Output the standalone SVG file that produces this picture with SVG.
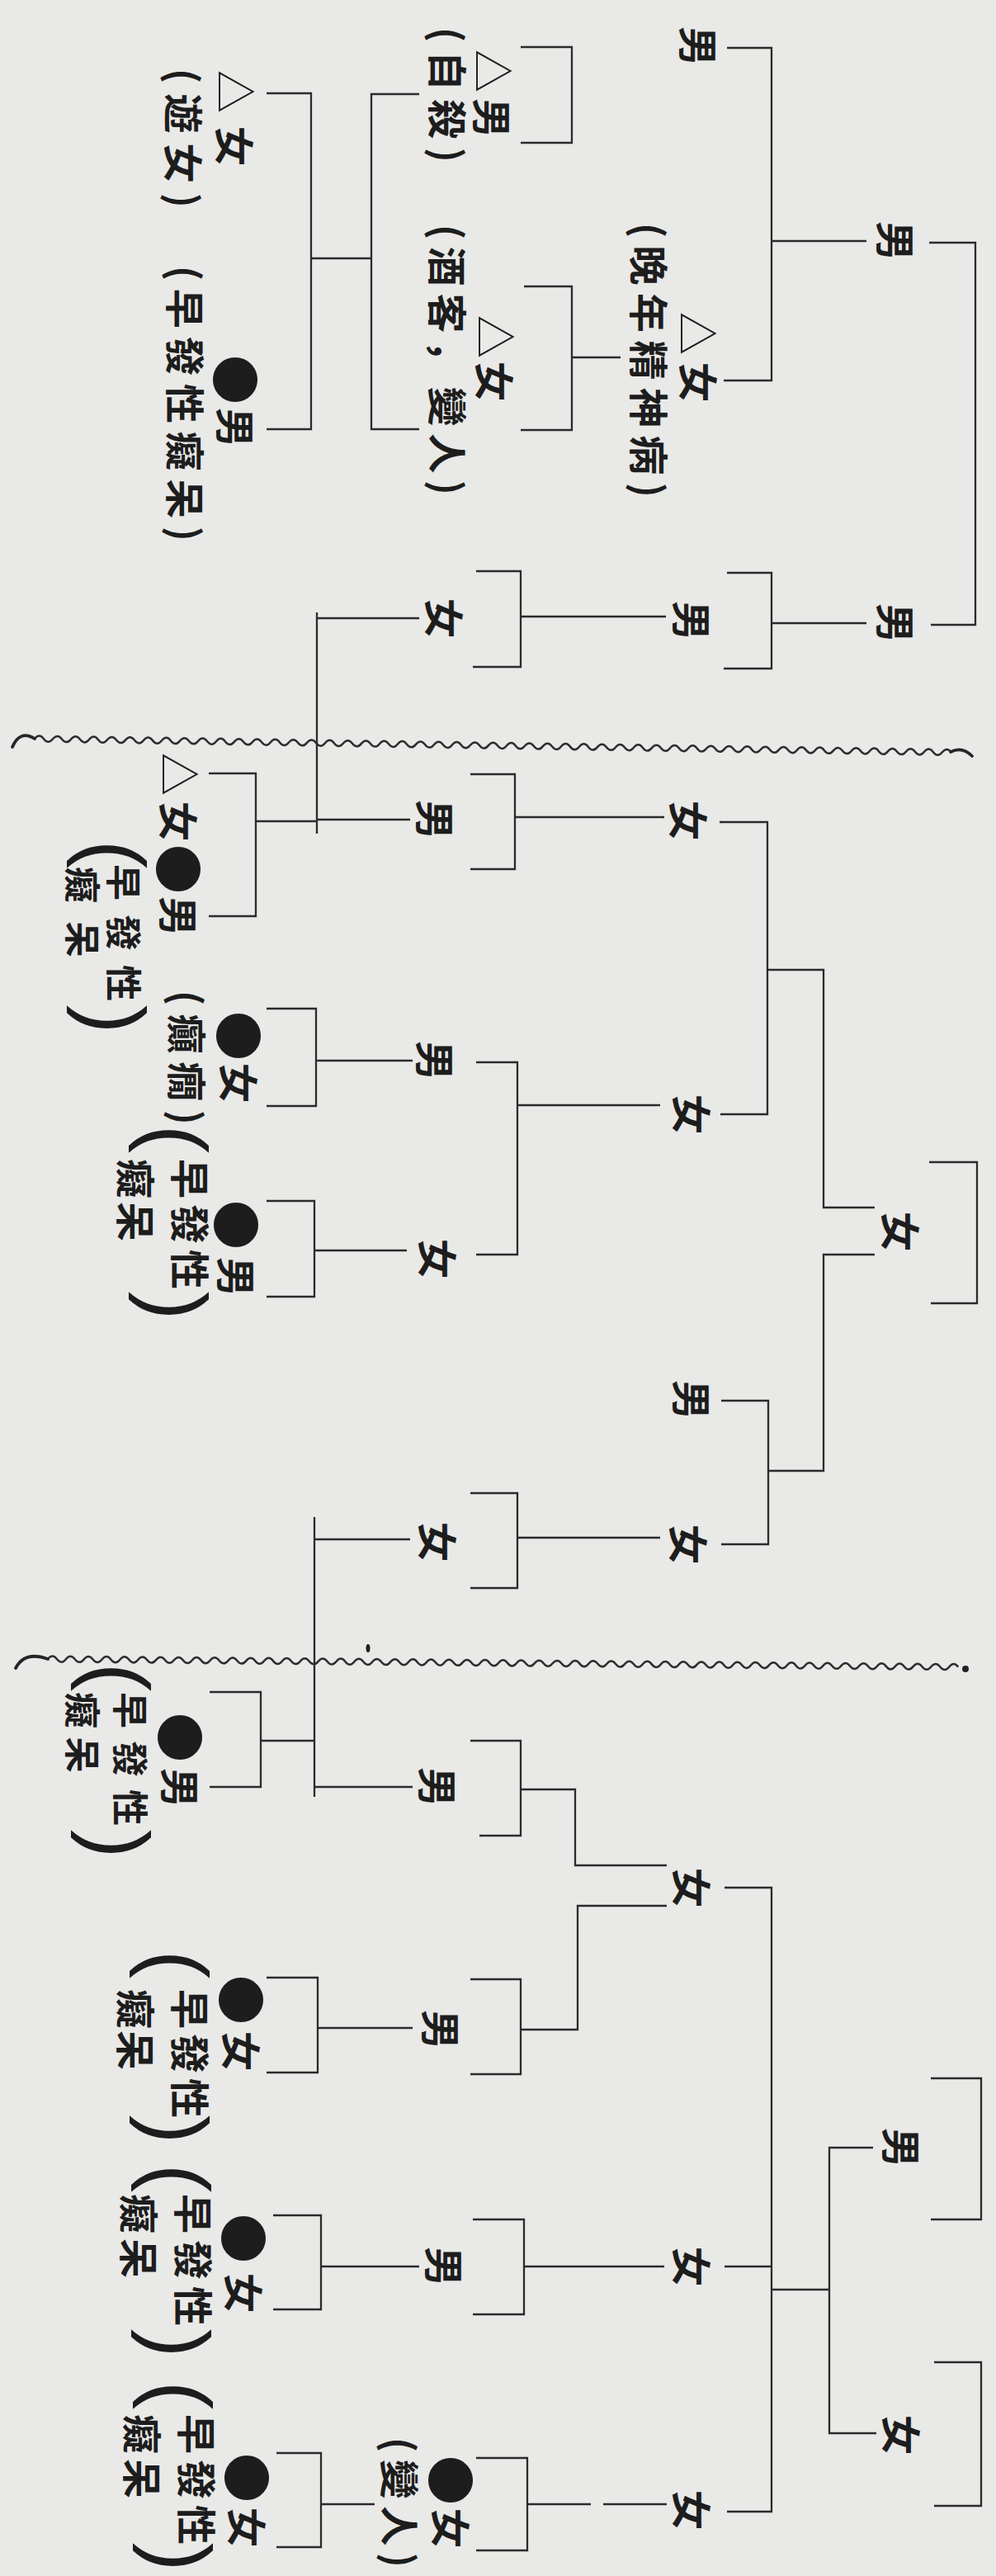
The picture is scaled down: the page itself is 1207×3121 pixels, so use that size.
<svg xmlns="http://www.w3.org/2000/svg" width="1207" height="3121" viewBox="0 0 1207 3121">
<defs>
<style>
.bg{fill:#e9e9e7}
.c path{fill:none;stroke:#2b2b2b;stroke-width:2.3;stroke-linecap:butt;stroke-linejoin:miter}
.w{fill:none;stroke:#2e2e2e;stroke-width:2.5}
.wh{fill:none;stroke:#262626;stroke-width:3.8;stroke-linecap:round}
text{font-family:"Noto Sans CJK JP","Noto Sans CJK SC",sans-serif;fill:#1d1d1d;dominant-baseline:central}
.n{font-size:48px;text-anchor:middle;font-weight:700}
.s{font-size:52px;text-anchor:middle}
.d{font-size:60px;text-anchor:middle}
.a{font-size:48px;text-anchor:start;font-weight:700}
.a2{font-size:48px;text-anchor:start;font-weight:700}
.a3{font-size:44px;text-anchor:start;font-weight:700}
.p{font-family:"Liberation Sans",sans-serif;font-size:104px;text-anchor:middle;font-weight:400}
</style>
<path id="wave" class="w" d="M0,0 q5.5,-7 11,0 t11,0t11,0t11,0t11,0t11,0t11,0t11,0t11,0t11,0t11,0 t11,0t11,0t11,0t11,0t11,0t11,0t11,0t11,0t11,0t11,0 t11,0t11,0t11,0t11,0t11,0t11,0t11,0t11,0t11,0t11,0 t11,0t11,0t11,0t11,0t11,0t11,0t11,0t11,0t11,0t11,0 t11,0t11,0t11,0t11,0t11,0t11,0t11,0t11,0t11,0t11,0 t11,0t11,0t11,0t11,0t11,0t11,0t11,0t11,0t11,0t11,0 t11,0t11,0t11,0t11,0t11,0t11,0t11,0t11,0t11,0t11,0 t11,0t11,0t11,0t11,0t11,0t11,0t11,0t11,0t11,0t11,0 t11,0t11,0t11,0t11,0t11,0t11,0t11,0t11,0t11,0t11,0 t11,0t11,0t11,0t11,0t11,0t11,0t11,0t11,0t11,0t11,0"/>
</defs>
<rect class="bg" x="0" y="0" width="1207" height="3121"/>

<g id="breaks">
<use href="#wave" transform="translate(42,895) rotate(0.85)"/>
<path class="wh" d="M15,905 Q24,884 42,895"/>
<path class="wh" d="M1152,911 Q1166,904 1178,916"/>
<use href="#wave" transform="translate(58,2010) rotate(0.5) scale(0.993,1)"/>
<path class="wh" d="M19,2021 Q30,2000 58,2010"/>
<circle cx="1170" cy="2022" r="4" fill="#222"/>
<ellipse cx="446" cy="1997" rx="2.5" ry="5" fill="#222"/>
</g>

<g id="connectors" class="c">
<path d="M1126,294 H1182 V757 H1128"/>
<path d="M881,58 H935 V461 H877 M935,292 H1050"/>
<path d="M631,57 H693 V173 H631"/>
<path d="M635,347 H693 V521 H631 M693,433 H752"/>
<path d="M508,114 H450 V520 H508 M450,313 H377"/>
<path d="M323,113 H377 V520 H323"/>
<path d="M881,694 H935 V810 H877 M935,755 H1050"/>
<path d="M577,692 H631 V808 H573 M631,747 H807"/>
<path d="M384,742 V1010 M384,749 H508 M384,993 H497"/>
<path d="M253,937 H310 V1110 H253 M310,995 H384"/>
<path d="M570,938 H624 V1053 H570 M624,990 H805"/>
<path d="M872,996 H930 V1350 H873 M930,1175 H998 V1463 H1060 M1060,1520 H998 V1782 H931"/>
<path d="M874,1697 H931 V1871 H874"/>
<path d="M1126,1408 H1184 V1579 H1128"/>
<path d="M577,1287 H627 V1520 H577 M627,1339 H800"/>
<path d="M323,1222 H383 V1340 H323 M383,1285 H500"/>
<path d="M323,1455 H381 V1571 H323 M381,1515 H493"/>
<path d="M570,1809 H627 V1924 H570 M627,1863 H800"/>
<path d="M381,1838 V2177 M381,1865 H497 M381,2165 H500 M316,2109 H381"/>
<path d="M254,2050 H316 V2165 H254"/>
<path d="M570,2109 H631 V2224 H581 M631,2168 H697 V2260 H808"/>
<path d="M808,2309 H700 V2459 H631 M570,2398 H631 V2513 H570"/>
<path d="M323,2396 H385 V2511 H323 M385,2457 H500"/>
<path d="M878,2287 H935 V3043 H881 M878,2746 H935 M935,2774 H1005"/>
<path d="M1058,2602 H1005 V2948 H1062"/>
<path d="M1128,2518 H1189 V2689 H1128"/>
<path d="M1132,2862 H1189 V3036 H1132"/>
<path d="M573,2689 H635 V2804 H573 M635,2746 H805"/>
<path d="M331,2684 H389 V2798 H331 M389,2746 H508"/>
<path d="M577,2978 H639 V3090 H577 M639,3034 H716 M731,3034 H808"/>
<path d="M335,2972 H389 V3086 H335 M389,3034 H454"/>
</g>

<g id="n1"><text class="n" transform="translate(1088,292) rotate(90)">男</text></g>
<g id="n2"><text class="n" transform="translate(1088,755) rotate(90)">男</text></g>
<g id="n3"><text class="n" transform="translate(1094,1492) rotate(90)">女</text></g>
<g id="n4"><text class="n" transform="translate(1095,2602) rotate(90)">男</text></g>
<g id="n5"><text class="n" transform="translate(1095,2950) rotate(90)">女</text></g>

<g id="n6"><text class="n" transform="translate(849,56) rotate(90)">男</text></g>
<g id="n7"><text class="s" transform="translate(847,404) rotate(90)">△</text><text class="n" transform="translate(849,463) rotate(90)">女</text><text class="a" transform="translate(789,270) rotate(90)" textLength="333" lengthAdjust="spacing">(晚年精神病)</text></g>
<g id="n8"><text class="n" transform="translate(841,752) rotate(90)">男</text></g>
<g id="n9"><text class="n" transform="translate(837,994) rotate(90)">女</text></g>
<g id="n10"><text class="n" transform="translate(841,1350) rotate(90)">女</text></g>
<g id="n11"><text class="n" transform="translate(841,1696) rotate(90)">男</text></g>
<g id="n12"><text class="n" transform="translate(837,1871) rotate(90)">女</text></g>
<g id="n13"><text class="n" transform="translate(841,2287) rotate(90)">女</text></g>
<g id="n14"><text class="n" transform="translate(841,2746) rotate(90)">女</text></g>
<g id="n15"><text class="n" transform="translate(841,3041) rotate(90)">女</text></g>

<g id="n16"><text class="s" transform="translate(599,86) rotate(90)">△</text><text class="n" transform="translate(599,143) rotate(90)">男</text><text class="a" transform="translate(545,33) rotate(90)" textLength="164" lengthAdjust="spacing">(自殺)</text></g>
<g id="n17"><text class="s" transform="translate(602,408) rotate(90)">△</text><text class="n" transform="translate(602,462) rotate(90)">女</text><text class="a" transform="translate(545,272) rotate(90)" textLength="328" lengthAdjust="spacing">(酒客，變人)</text></g>
<g id="n18"><text class="n" transform="translate(541,749) rotate(90)">女</text></g>
<g id="n19"><text class="n" transform="translate(530,993) rotate(90)">男</text></g>
<g id="n20"><text class="n" transform="translate(530,1285) rotate(90)">男</text></g>
<g id="n21"><text class="n" transform="translate(533,1525) rotate(90)">女</text></g>
<g id="n22"><text class="n" transform="translate(533,1868) rotate(90)">女</text></g>
<g id="n23"><text class="n" transform="translate(533,2165) rotate(90)">男</text></g>
<g id="n24"><text class="n" transform="translate(537,2459) rotate(90)">男</text></g>
<g id="n25"><text class="n" transform="translate(541,2746) rotate(90)">男</text></g>
<g id="n26"><text class="d" transform="translate(549,3005) rotate(90)">●</text><text class="n" transform="translate(549,3063) rotate(90)">女</text><text class="a" transform="translate(487,2953) rotate(90)" textLength="158" lengthAdjust="spacing">(變人)</text></g>

<g id="n27"><text class="s" transform="translate(287,111) rotate(90)">△</text><text class="n" transform="translate(287,177) rotate(90)">女</text><text class="a" transform="translate(225,83) rotate(90)" textLength="169" lengthAdjust="spacing">(遊女)</text></g>
<g id="n28"><text class="d" transform="translate(288,460) rotate(90)">●</text><text class="n" transform="translate(288,518) rotate(90)">男</text><text class="a" transform="translate(227,322) rotate(90)" textLength="334" lengthAdjust="spacing">(早發性癡呆)</text></g>
<g id="n29"><text class="s" transform="translate(219,938) rotate(90)">△</text><text class="n" transform="translate(219,995) rotate(90)">女</text><text class="d" transform="translate(219,1053) rotate(90)">●</text><text class="n" transform="translate(219,1110) rotate(90)">男</text><text class="p" transform="translate(139,1035) rotate(90)">(</text><text class="a3" transform="translate(152,1047) rotate(90)" textLength="166" lengthAdjust="spacing">早發性</text><text class="a3" transform="translate(102,1050) rotate(90)" textLength="110" lengthAdjust="spacing">癡呆</text><text class="p" transform="translate(139,1235) rotate(90)">)</text></g>
<g id="n30"><text class="d" transform="translate(292,1255) rotate(90)">●</text><text class="n" transform="translate(292,1312) rotate(90)">女</text><text class="a" transform="translate(229,1200) rotate(90)" textLength="163" lengthAdjust="spacing">(癲癇)</text></g>
<g id="n31"><text class="d" transform="translate(289,1484) rotate(90)">●</text><text class="n" transform="translate(289,1547) rotate(90)">男</text><text class="p" transform="translate(214,1380) rotate(90)">(</text><text class="a2" transform="translate(233,1404) rotate(90)" textLength="158" lengthAdjust="spacing">早發性</text><text class="a2" transform="translate(167,1404) rotate(90)" textLength="100" lengthAdjust="spacing">癡呆</text><text class="p" transform="translate(214,1582) rotate(90)">)</text></g>
<g id="n32"><text class="d" transform="translate(221,2105) rotate(90)">●</text><text class="n" transform="translate(221,2166) rotate(90)">男</text><text class="p" transform="translate(144,2032) rotate(90)">(</text><text class="a3" transform="translate(160,2050) rotate(90)" textLength="162" lengthAdjust="spacing">早發性</text><text class="a3" transform="translate(102,2050) rotate(90)" textLength="98" lengthAdjust="spacing">癡呆</text><text class="p" transform="translate(144,2234) rotate(90)">)</text></g>
<g id="n33"><text class="d" transform="translate(295,2423) rotate(90)">●</text><text class="n" transform="translate(295,2485) rotate(90)">女</text><text class="p" transform="translate(215,2380) rotate(90)">(</text><text class="a2" transform="translate(233,2410) rotate(90)" textLength="156" lengthAdjust="spacing">早發性</text><text class="a2" transform="translate(167,2410) rotate(90)" textLength="98" lengthAdjust="spacing">癡呆</text><text class="p" transform="translate(215,2580) rotate(90)">)</text></g>
<g id="n34"><text class="d" transform="translate(298,2712) rotate(90)">●</text><text class="n" transform="translate(298,2778) rotate(90)">女</text><text class="p" transform="translate(217,2639) rotate(90)">(</text><text class="a2" transform="translate(237,2658) rotate(90)" textLength="160" lengthAdjust="spacing">早發性</text><text class="a2" transform="translate(171,2658) rotate(90)" textLength="102" lengthAdjust="spacing">癡呆</text><text class="p" transform="translate(217,2839) rotate(90)">)</text></g>
<g id="n35"><text class="d" transform="translate(302,3002) rotate(90)">●</text><text class="n" transform="translate(302,3062) rotate(90)">女</text><text class="p" transform="translate(219,2902) rotate(90)">(</text><text class="a2" transform="translate(241,2925) rotate(90)" textLength="158" lengthAdjust="spacing">早發性</text><text class="a2" transform="translate(175,2925) rotate(90)" textLength="102" lengthAdjust="spacing">癡呆</text><text class="p" transform="translate(219,3098) rotate(90)">)</text></g>
</svg>
